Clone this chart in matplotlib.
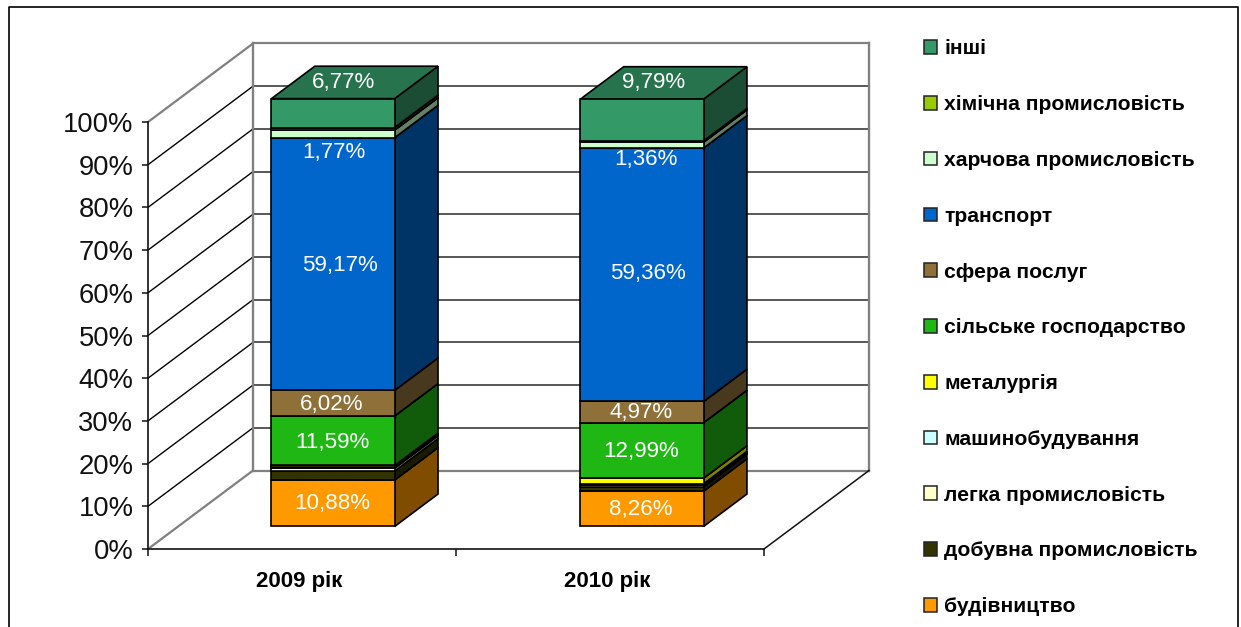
import matplotlib
matplotlib.use("Agg")
import matplotlib.pyplot as plt
from matplotlib.patches import Patch, Polygon
from matplotlib.lines import Line2D
from matplotlib.ticker import FixedLocator, FixedFormatter, NullFormatter

plt.rcParams['font.family'] = ['Liberation Sans', 'DejaVu Sans']

years = ['2009 рік', '2010 рік']
sectors = ['будівництво', 'добувна промисловість', 'легка промисловість',
           'машинобудування', 'металургія', 'сільське господарство',
           'сфера послуг', 'транспорт', 'харчова промисловість',
           'хімічна промисловість', 'інші']
values_2009 = [10.88, 2.10, 0.70, 0.30, 0.30, 11.59, 6.02, 59.17, 1.77, 0.60, 6.77]
values_2010 = [8.26, 1.05, 0.35, 0.35, 1.30, 12.99, 4.97, 59.36, 1.36, 0.30, 9.79]
labels_2009 = {0: '10,88%', 5: '11,59%', 6: '6,02%', 7: '59,17%', 8: '1,77%', 10: '6,77%'}
labels_2010 = {0: '8,26%', 5: '12,99%', 6: '4,97%', 7: '59,36%', 8: '1,36%', 10: '9,79%'}
pct_ticks = list(range(0, 101, 10))

front_colors = ['#FF9900', '#333300', '#FFFFCC', '#CCFFFF', '#FFFF00', '#1FB714',
                '#8F7039', '#0066CC', '#CCFFCC', '#99CC00', '#339966']

# Manual nudges of the data labels, in pixels (x right, y down)
nudges_2009 = {0: (-1, 0), 5: (-1, 2), 6: (-1, 1), 7: (7, 2), 8: (1, 19), 10: (10, -31)}
nudges_2010 = {0: (-1, 1), 5: (-1, 1), 6: (-1, 0), 7: (6, -1), 8: (4, 14), 10: (12, -38)}

W, H, DPI = 1241, 627, 100
PX = 72 / DPI

# Oblique projection of the floor depth onto the plane of the axes
DEPTH_X = 105 / 308     # category units per unit of depth
DEPTH_Y = 78.5 / 4.27   # percent per unit of depth
BAR_D0, BAR_D1 = 0.287, 0.70
BAR_W = 0.40
BAR_CENTERS = [0.503, 1.506]


def proj(x, y, d=0.0):
    return (x + d * DEPTH_X, y + d * DEPTH_Y)


def shade(color, k):
    rgb = matplotlib.colors.to_rgb(color)
    return tuple(c * k for c in rgb)


fig = plt.figure(figsize=(W / DPI, H / DPI), dpi=DPI, facecolor='white')
ax = fig.add_axes([148 / W, (H - 549) / H, 616 / W, 427 / H])
ax.set_xlim(0, 2)
ax.set_ylim(0, 100)
ax.patch.set_visible(False)
for side in ('top', 'right'):
    ax.spines[side].set_visible(False)
for side in ('left', 'bottom'):
    ax.spines[side].set_linewidth(1.2)
    ax.spines[side].set_color('#111111')
    ax.spines[side].set_zorder(2)

# Outer frame of the chart area, running off the lower edge
fig.add_artist(Line2D([8.5 / W, 8.5 / W, 1238 / W, 1238 / W],
                      [0, (H - 7) / H, (H - 7) / H, 0],
                      color='black', lw=1.2, transform=fig.transFigure))

GREY = '#808080'


def wall_line(points, color, lw, z=1):
    xs, ys = zip(*points)
    ax.plot(xs, ys, color=color, lw=lw, clip_on=False, zorder=z, solid_capstyle='projecting')


# Gridlines across the side wall and the back wall
for p in pct_ticks:
    edge = p in (0, 100)
    wall_line([proj(0, p, 0), proj(0, p, 1)],
              GREY if edge else 'black', 1.6 if edge else 1.0)
    wall_line([proj(0, p, 1), proj(2, p, 1)],
              GREY if edge else '#2a2a2a', 1.6 if edge else 1.1)
wall_line([proj(0, 0, 1), proj(0, 100, 1)], GREY, 1.7)
wall_line([proj(2, 0, 1), proj(2, 100, 1)], GREY, 1.7)
wall_line([proj(2, 0, 0), proj(2, 0, 1)], '#111111', 1.1)

# Stacked boxes: front, side and top faces, bottom segment first
for center, values, labels, nudges in zip(BAR_CENTERS, (values_2009, values_2010),
                                          (labels_2009, labels_2010),
                                          (nudges_2009, nudges_2010)):
    left, right = center - BAR_W / 2, center + BAR_W / 2
    base = 0.0
    for i, (val, col) in enumerate(zip(values, front_colors)):
        top = base + val
        faces = [
            ([proj(right, base, BAR_D0), proj(right, base, BAR_D1),
              proj(right, top, BAR_D1), proj(right, top, BAR_D0)], shade(col, 0.5)),
            ([proj(left, top, BAR_D0), proj(right, top, BAR_D0),
              proj(right, top, BAR_D1), proj(left, top, BAR_D1)], shade(col, 0.75)),
            ([proj(left, base, BAR_D0), proj(right, base, BAR_D0),
              proj(right, top, BAR_D0), proj(left, top, BAR_D0)], col),
        ]
        for pts, fc in faces:
            ax.add_patch(Polygon(pts, closed=True, facecolor=fc, edgecolor='black',
                                 lw=1.2, clip_on=False, zorder=3 + i * 0.01,
                                 joinstyle='miter'))
        if i in labels:
            nx, ny = nudges[i]
            ax.annotate(labels[i], xy=proj(center, base + val / 2, BAR_D0),
                        xytext=(nx * PX, -ny * PX), textcoords='offset points',
                        ha='center', va='center', color='white', fontsize=16.1,
                        annotation_clip=False, zorder=5)
        base = top

# Axis ticks and labels
ax.yaxis.set_major_locator(FixedLocator(pct_ticks))
ax.yaxis.set_major_formatter(FixedFormatter([f'{p}%' for p in pct_ticks]))
ax.tick_params(axis='y', which='major', length=4, width=1.1, pad=6.5,
               labelsize=19.7, color='#111111', labelcolor='#111111')
ax.xaxis.set_major_locator(FixedLocator([0, 1, 2]))
ax.xaxis.set_major_formatter(NullFormatter())
ax.tick_params(axis='x', which='major', length=5, width=1.1, color='#111111')
ax.xaxis.set_minor_locator(FixedLocator([0.49, 1.49]))
ax.xaxis.set_minor_formatter(FixedFormatter(years))
ax.tick_params(axis='x', which='minor', length=0, pad=16, labelsize=16)
for lab in ax.get_xminorticklabels():
    lab.set_fontweight('bold')

# Legend, listed from the top of the stack downward
handles = [Patch(facecolor=c, edgecolor='#222222', lw=1.1, label=s)
           for c, s in zip(front_colors[::-1], sectors[::-1])]
fig.legend(handles=handles, loc='upper left', bbox_to_anchor=(924 / W, (H - 39.5) / H),
           frameon=False, labelspacing=1.742, handlelength=0.62,
           handleheight=0.62, handletextpad=0.34, borderpad=0, borderaxespad=0,
           prop={'weight': 'bold', 'size': 15.2})

fig.savefig('out.png', dpi=DPI, facecolor='white')
